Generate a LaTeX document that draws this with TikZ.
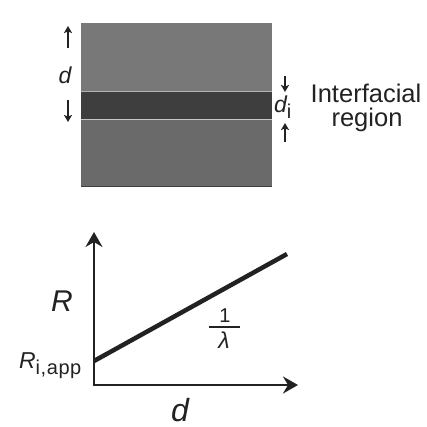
\documentclass[tikz,border=0pt]{standalone}
\usepackage{fontspec}
\setmainfont{Liberation Sans}
\usetikzlibrary{arrows.meta}
\definecolor{topgray}{HTML}{787878}
\definecolor{bandgray}{HTML}{3E3E3E}
\definecolor{botgray}{HTML}{6A6A6A}
\definecolor{ink}{HTML}{222222}
\newcommand{\fsz}[1]{\fontsize{#1}{#1}\selectfont}
\begin{document}
\begin{tikzpicture}[x=1pt,y=-1pt,
  lbl/.style={inner sep=0pt, outer sep=0pt, text=ink},
  smallarrow/.style={draw=ink, line width=1.7pt, -{Stealth[length=7pt,width=8pt,inset=1.5pt]}},
  axis/.style={draw=ink, line width=2.5pt, -{Stealth[length=15pt,width=17pt,inset=5pt]}},
  trend/.style={draw=ink, line width=4.5pt}]
\useasboundingbox (0,0) rectangle (427,427);
\fill[white] (0,0) rectangle (427,427);
% layered sample
\fill[topgray] (81,23) rectangle (272,91);
\fill[bandgray] (81,91) rectangle (272,119);
\fill[botgray] (81,119) rectangle (272,187);
\draw[gray!60!white, line width=0.8pt] (81,91) -- (272,91);
\draw[gray!45!white, line width=0.8pt] (81,119) -- (272,119);
\draw[bandgray, line width=1pt] (81,186.5) -- (272,186.5);
% left thickness marker
\coordinate (lu1) at (68,48); \coordinate (lu2) at (68,26);
\coordinate (ld1) at (68,100); \coordinate (ld2) at (68,122);
\draw[smallarrow] (lu1) -- (lu2);
\draw[smallarrow] (ld1) -- (ld2);
\node[lbl, anchor=base] (dleft) at (65,84) {\fsz{23}\itshape d};
% right interfacial marker
\coordinate (ru1) at (285,76); \coordinate (ru2) at (285,92);
\coordinate (rd1) at (285,142); \coordinate (rd2) at (285,123);
\draw[smallarrow] (ru1) -- (ru2);
\draw[smallarrow] (rd1) -- (rd2);
\node[lbl, anchor=base west] (di) at (274,113) {\fsz{23}\itshape d\raisebox{-6pt}{\fsz{20}\upshape i}};
\node[lbl, anchor=base] (inter) at (366,103) {\fsz{25.5}Interfacial};
\node[lbl, anchor=base] (region) at (367,126.5) {\fsz{25.5}region};
% graph
\coordinate (origin) at (94,385);
\coordinate (ytip) at (94,232);
\coordinate (xtip) at (298,385);
\coordinate (lstart) at (94,361);
\coordinate (lend) at (287,254);
\draw[axis, line cap=butt] (origin) -- (ytip);
\draw[axis] ([xshift=-1.25pt]origin) -- (xtip);
\draw[trend] (lstart) -- (lend);
\node[lbl, anchor=base] (Rlab) at (62,311) {\fsz{30}\itshape R};
\node[lbl, anchor=base west] (Rint) at (19,368) {\fsz{23}\itshape R\raisebox{-6pt}{\fsz{20}\upshape\addfontfeature{LetterSpace=3}i,app}};
\node[lbl, anchor=base] (one) at (225,322) {\fsz{20}1};
\node[lbl, anchor=base] (lam) at (224,348) {\fsz{23}\itshape λ};
\draw[ink, line width=1.5pt] (209,327) -- (240,327);
\node[lbl, anchor=base] (dbot) at (180,421) {\fsz{32}\itshape d};
\end{tikzpicture}
\end{document}
